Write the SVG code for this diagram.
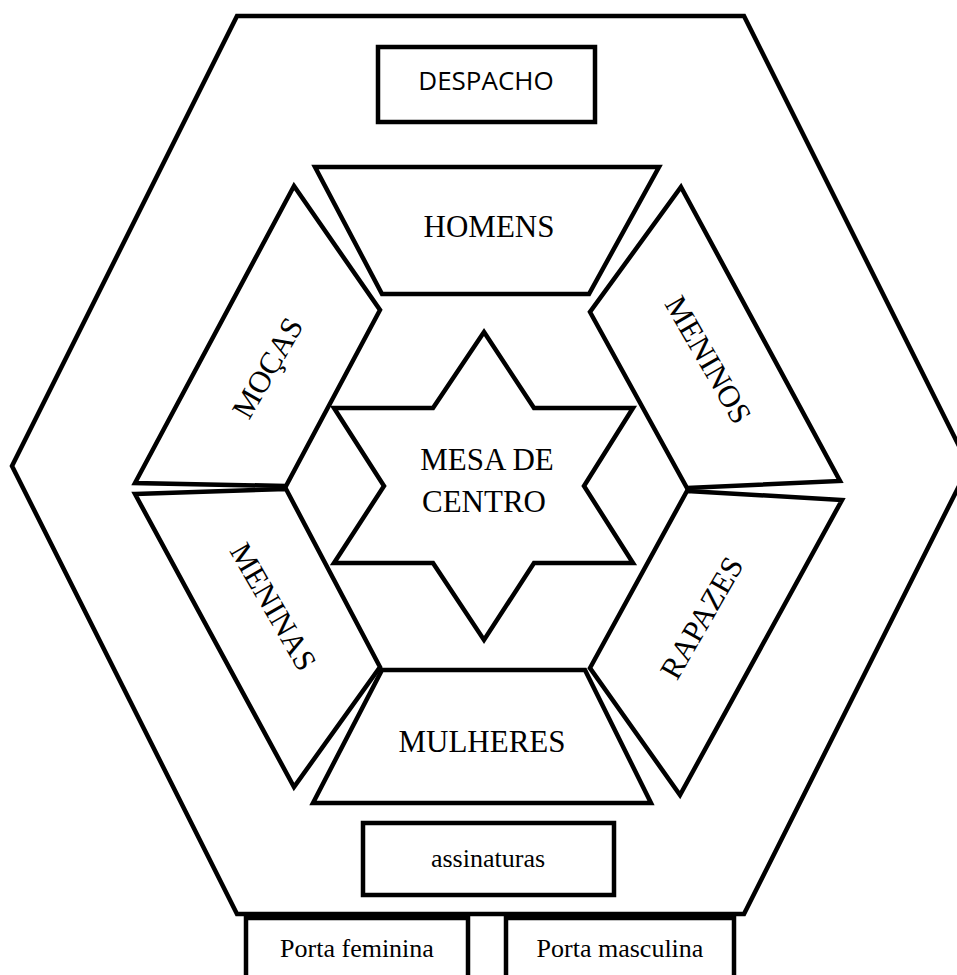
<svg xmlns="http://www.w3.org/2000/svg" width="957" height="975" viewBox="0 0 957 975">
<style>
.s{fill:#fff;stroke:#000;stroke-width:4.5;stroke-linejoin:miter}
.t{font-family:"Liberation Serif","Times New Roman",serif;fill:#000;text-anchor:middle}
.big{font-size:31px}
.rot{font-size:31px}
.small{font-size:26px}
.sans{font-family:"Open Sans","Liberation Sans",sans-serif;font-size:26px;fill:#000;text-anchor:middle}
</style>
<rect width="957" height="975" fill="#fff"/>
<g id="sala">
<polygon class="s" points="237,16 744,16 969,466 744,914 237,914 12,466"/>
</g>
<g id="despacho">
<rect class="s" x="378" y="47" width="217" height="75"/>
<text class="sans" x="486" y="90">DESPACHO</text>
</g>
<g id="homens">
<polygon class="s" points="315,167 659,167 589,294 382,294"/>
<text class="t big" x="489" y="237">HOMENS</text>
</g>
<g id="mocas">
<polygon class="s" points="294,186 380,310 286,486 135,483"/>
<text class="t rot" transform="translate(268,368) rotate(-60)" y="10">MOÇAS</text>
</g>
<g id="meninos">
<polygon class="s" points="681,187 840,481 687,488 590,312"/>
<text class="t rot" transform="translate(708,360) rotate(60)" y="10">MENINOS</text>
</g>
<g id="meninas">
<polygon class="s" points="135,494 286,489 380,667 294,787"/>
<text class="t rot" transform="translate(273,607) rotate(60)" y="10">MENINAS</text>
</g>
<g id="rapazes">
<polygon class="s" points="687,491 842,500 680,795 590,668"/>
<text class="t rot" transform="translate(702,618) rotate(-60)" y="10">RAPAZES</text>
</g>
<g id="mulheres">
<polygon class="s" points="382,670 585,670 651,803 313,803"/>
<text class="t big" x="482" y="752">MULHERES</text>
</g>
<g id="mesa">
<polygon class="s" points="484,332 534,408 633,408 584,486 633,563 534,563 484,640 433,563 334,563 384,486 334,408 433,408"/>
<text class="t big" x="487" y="470">MESA DE</text>
<text class="t big" x="484" y="512">CENTRO</text>
</g>
<g id="assinaturas">
<rect class="s" x="363" y="823" width="251" height="72"/>
<text class="t small" x="488" y="867">assinaturas</text>
</g>
<g id="porta-feminina">
<rect class="s" x="246" y="918" width="222" height="70"/>
<text class="t small" x="357" y="957">Porta feminina</text>
</g>
<g id="porta-masculina">
<rect class="s" x="506" y="918" width="228" height="70"/>
<text class="t small" x="620" y="957">Porta masculina</text>
</g>
</svg>
